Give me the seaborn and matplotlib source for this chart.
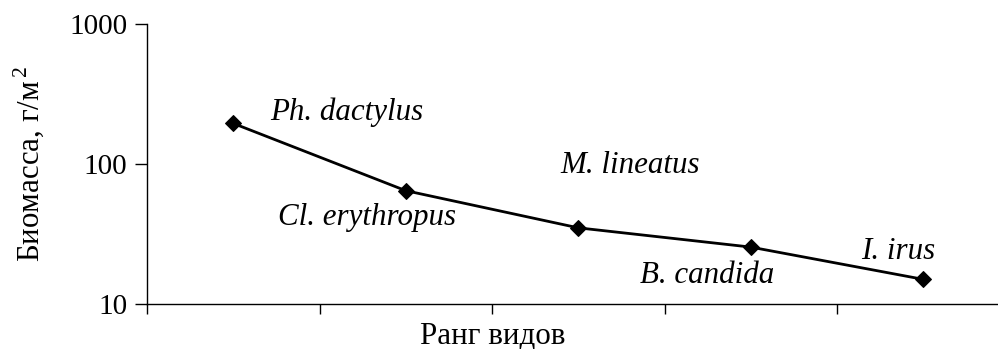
import matplotlib
matplotlib.use("Agg")
import matplotlib.pyplot as plt
import seaborn as sns
import pandas as pd

species = ["Ph. dactylus", "Cl. erythropus", "M. lineatus", "B. candida", "I. irus"]
rank = [1, 2, 3, 4, 5]
biomass = [195, 64.5, 35, 25.5, 15]
# species label placement relative to each point (x shift, y factor)
label_dx = [0.66, -0.225, 0.30, -0.254, -0.147]
label_fy = [1.2, 0.648, 2.81, 0.63, 1.57]

sns.set_style("white")
plt.rcParams["font.family"] = ["Liberation Serif", "DejaVu Serif"]
plt.rcParams["mathtext.fontset"] = "custom"
plt.rcParams["mathtext.rm"] = "Liberation Serif"
plt.rcParams["text.color"] = "black"
plt.rcParams["axes.labelcolor"] = "black"
plt.rcParams["ytick.color"] = "black"
plt.rcParams["xtick.color"] = "black"

FS_TICK = 21
FS_TEXT = 22.3

fig = plt.figure(figsize=(9.98, 3.49), dpi=100)
ax = fig.add_axes([147 / 998, 1 - 304 / 349, (1009.5 - 147) / 998, 280 / 349])

df = pd.DataFrame({"rank": rank, "biomass": biomass})
sns.lineplot(data=df, x="rank", y="biomass", ax=ax, color="black", lw=2.0,
             marker="D", markersize=8.5, markeredgecolor="black")

ax.set_yscale("log")
ax.set_ylim(10, 1000)
ax.set_xlim(0.5, 5.5)
ax.set_xticks([0.5, 1.5, 2.5, 3.5, 4.5, 5.5])
ax.set_xticklabels([])
ax.set_yticks([10, 100, 1000])
ax.set_yticklabels(["10", "100", "1000"])
ax.yaxis.set_minor_locator(matplotlib.ticker.NullLocator())

for s in ["top", "right"]:
    ax.spines[s].set_visible(False)
for s in ["left", "bottom"]:
    ax.spines[s].set_color("black")
    ax.spines[s].set_linewidth(1.0)

ax.tick_params(axis="y", which="major", direction="out", length=9, width=1,
               color="black", labelsize=FS_TICK, labelcolor="black", pad=5, left=True)
ax.tick_params(axis="x", which="major", direction="out", length=7, width=1,
               color="black", bottom=True)

for name, x, y, dx, fy in zip(species, rank, biomass, label_dx, label_fy):
    ax.text(x + dx, y * fy, name, fontsize=FS_TEXT, style="italic",
            ha="center", va="center", color="black")

ax.set_xlabel("Ранг видов", fontsize=FS_TEXT, color="black")
ax.xaxis.set_label_coords((493 - 147) / (1009.5 - 147), -(343.5 - 304) / 280)
ax.xaxis.label.set_va("baseline")
ax.set_ylabel("Биомасса, г/м$^{\\,2}$", fontsize=FS_TEXT, color="black")
ax.yaxis.set_label_coords(-(147 - 29) / (1009.5 - 147), (304 - 164) / 280)
ax.yaxis.label.set_va("center")

fig.savefig("out.png", dpi=100)
